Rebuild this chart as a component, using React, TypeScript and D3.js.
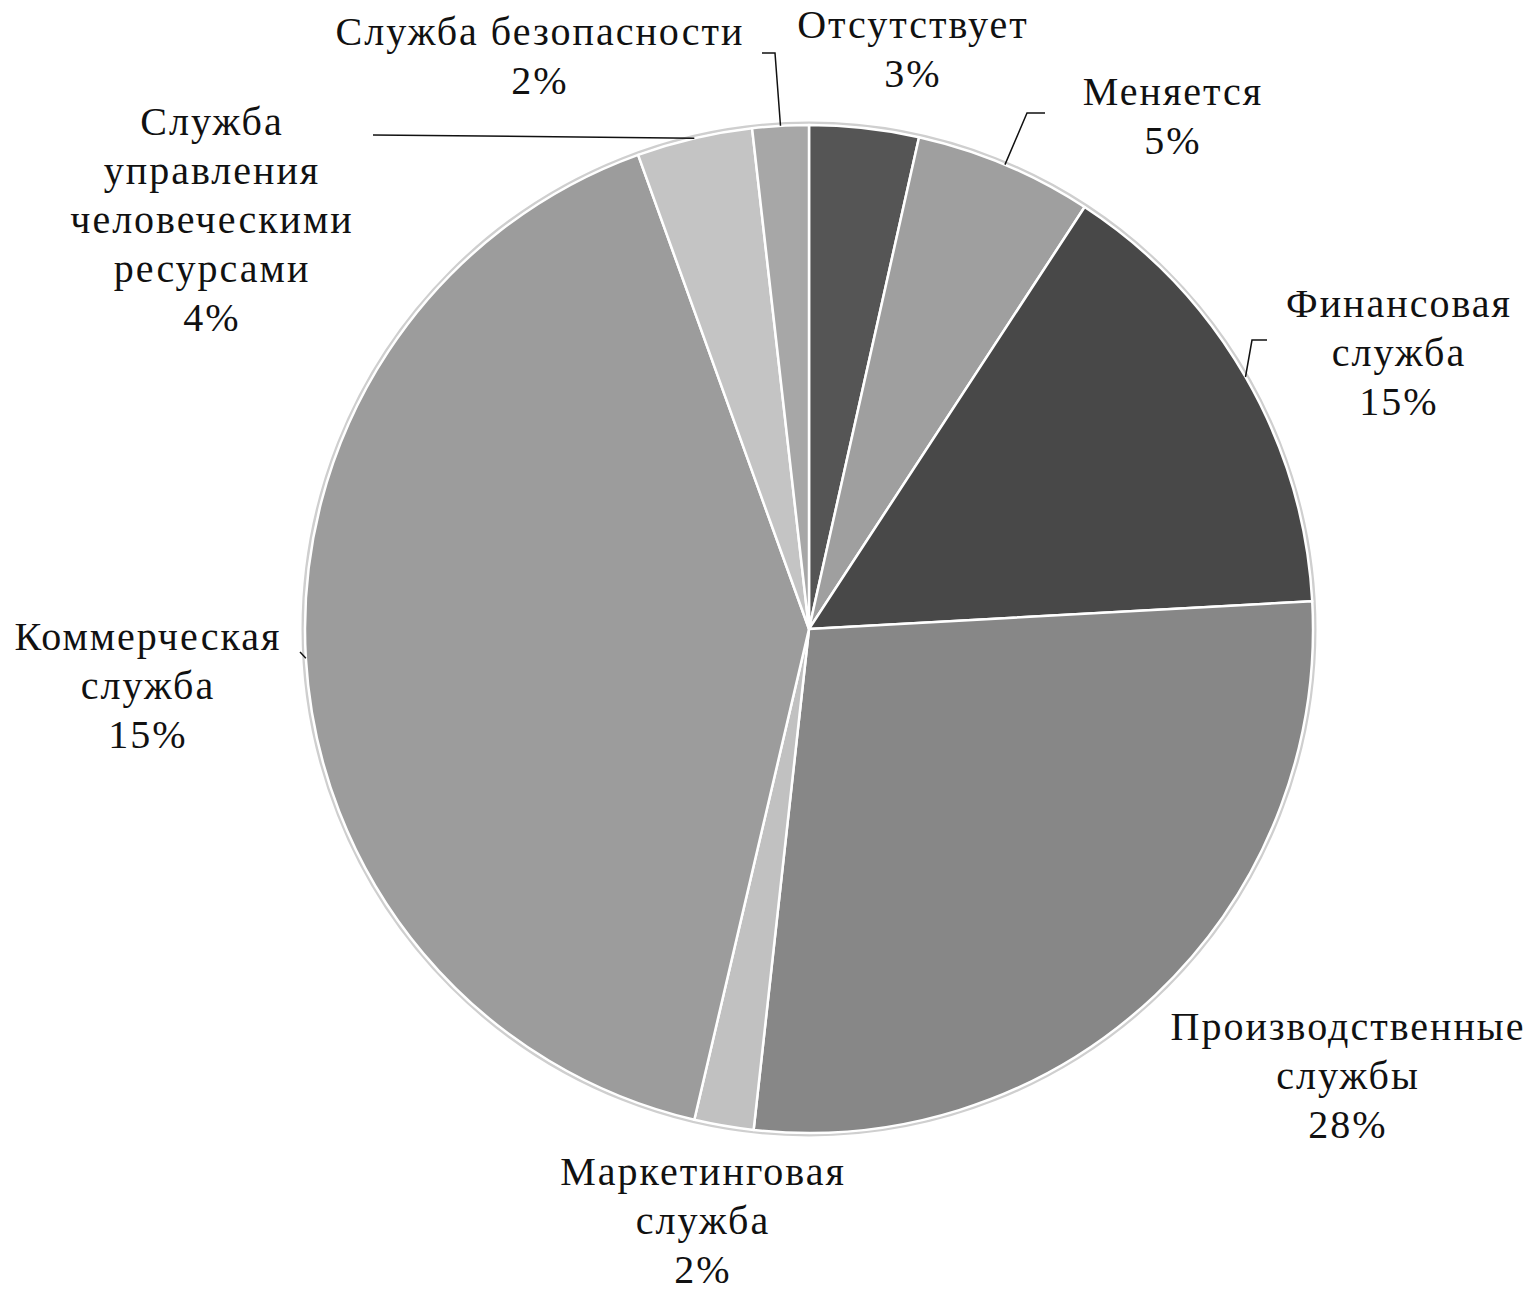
import React, { useEffect, useRef } from 'react';
import * as d3 from 'd3';

// slice names, split into the lines they are printed on
const categories: string[][] = [
  ['Отсутствует'],
  ['Меняется'],
  ['Финансовая', 'служба'],
  ['Производственные', 'службы'],
  ['Маркетинговая', 'служба'],
  ['Коммерческая', 'служба'],
  ['Служба', 'управления', 'человеческими', 'ресурсами'],
  ['Служба безопасности'],
];

// slice sizes
const shares = [3.5, 5.7, 14.9, 27.6, 1.9, 40.8, 3.7, 1.8];

// percentages as printed on the chart
const percentLabels = ['3%', '5%', '15%', '28%', '2%', '15%', '4%', '2%'];

const sliceColors = ['#555555', '#9f9f9f', '#484848', '#878787', '#c1c1c1', '#9c9c9c', '#c4c4c4', '#a7a7a7'];

// label centre x and first baseline y
const labelAnchors: [number, number][] = [
  [913, 38],
  [1173, 105],
  [1399, 317],
  [1348, 1040],
  [703, 1185],
  [148, 650],
  [212, 135],
  [540, 45],
];

// leader line points after the one on the pie rim
const leaderBends: [number, number][][] = [
  [],
  [[1027, 113], [1045, 113]],
  [[1252, 340], [1267, 340]],
  [],
  [],
  [[300, 652]],
  [[373, 135]],
  [[775, 53], [762, 53]],
];

const W = 1529;
const H = 1292;
const cx = 809;
const cy = 629;
const R = 504;
const lineH = 49;

export default function App() {
  const ref = useRef<SVGSVGElement>(null);

  useEffect(() => {
    const svg = d3.select(ref.current);
    svg.selectAll('*').remove();

    const pie = d3.pie<number>().sort(null).value((d) => d);
    const arcs = pie(shares);
    const arc = d3.arc<d3.PieArcDatum<number>>().innerRadius(0).outerRadius(R);

    const g = svg.append('g').attr('transform', `translate(${cx},${cy})`);

    // soft rim around the pie
    g.append('circle')
      .attr('r', R + 2)
      .attr('fill', 'none')
      .attr('stroke', '#cfcfcf')
      .attr('stroke-width', 3);

    g.selectAll('path.slice')
      .data(arcs)
      .enter()
      .append('path')
      .attr('class', 'slice')
      .attr('d', arc)
      .attr('fill', (d, i) => sliceColors[i])
      .attr('stroke', '#ffffff')
      .attr('stroke-width', 2.5)
      .attr('stroke-linejoin', 'round');

    // leader lines start at the rim, at the middle of the slice
    const line = d3.line();
    arcs.forEach((d, i) => {
      if (!leaderBends[i].length) return;
      const mid = (d.startAngle + d.endAngle) / 2;
      const start: [number, number] = [cx + R * Math.sin(mid), cy - R * Math.cos(mid)];
      svg.append('path')
        .attr('d', line([start, ...leaderBends[i]]))
        .attr('fill', 'none')
        .attr('stroke', '#111')
        .attr('stroke-width', 1.5);
    });

    const labels = svg.selectAll('text.label')
      .data(categories)
      .enter()
      .append('text')
      .attr('class', 'label')
      .attr('text-anchor', 'middle')
      .attr('font-family', '"Liberation Serif", "Times New Roman", serif')
      .attr('font-size', 40)
      .attr('letter-spacing', 2)
      .attr('fill', '#111');

    labels.each(function (lines, i) {
      const t = d3.select(this);
      const [x, y] = labelAnchors[i];
      [...lines, percentLabels[i]].forEach((s, k) => {
        t.append('tspan').attr('x', x).attr('y', y + k * lineH).text(s);
      });
    });
  }, []);

  return (
    <div style={{ position: 'absolute', left: 0, top: 0, background: '#fff' }}>
      <svg ref={ref} width={W} height={H} style={{ display: 'block' }} />
    </div>
  );
}
